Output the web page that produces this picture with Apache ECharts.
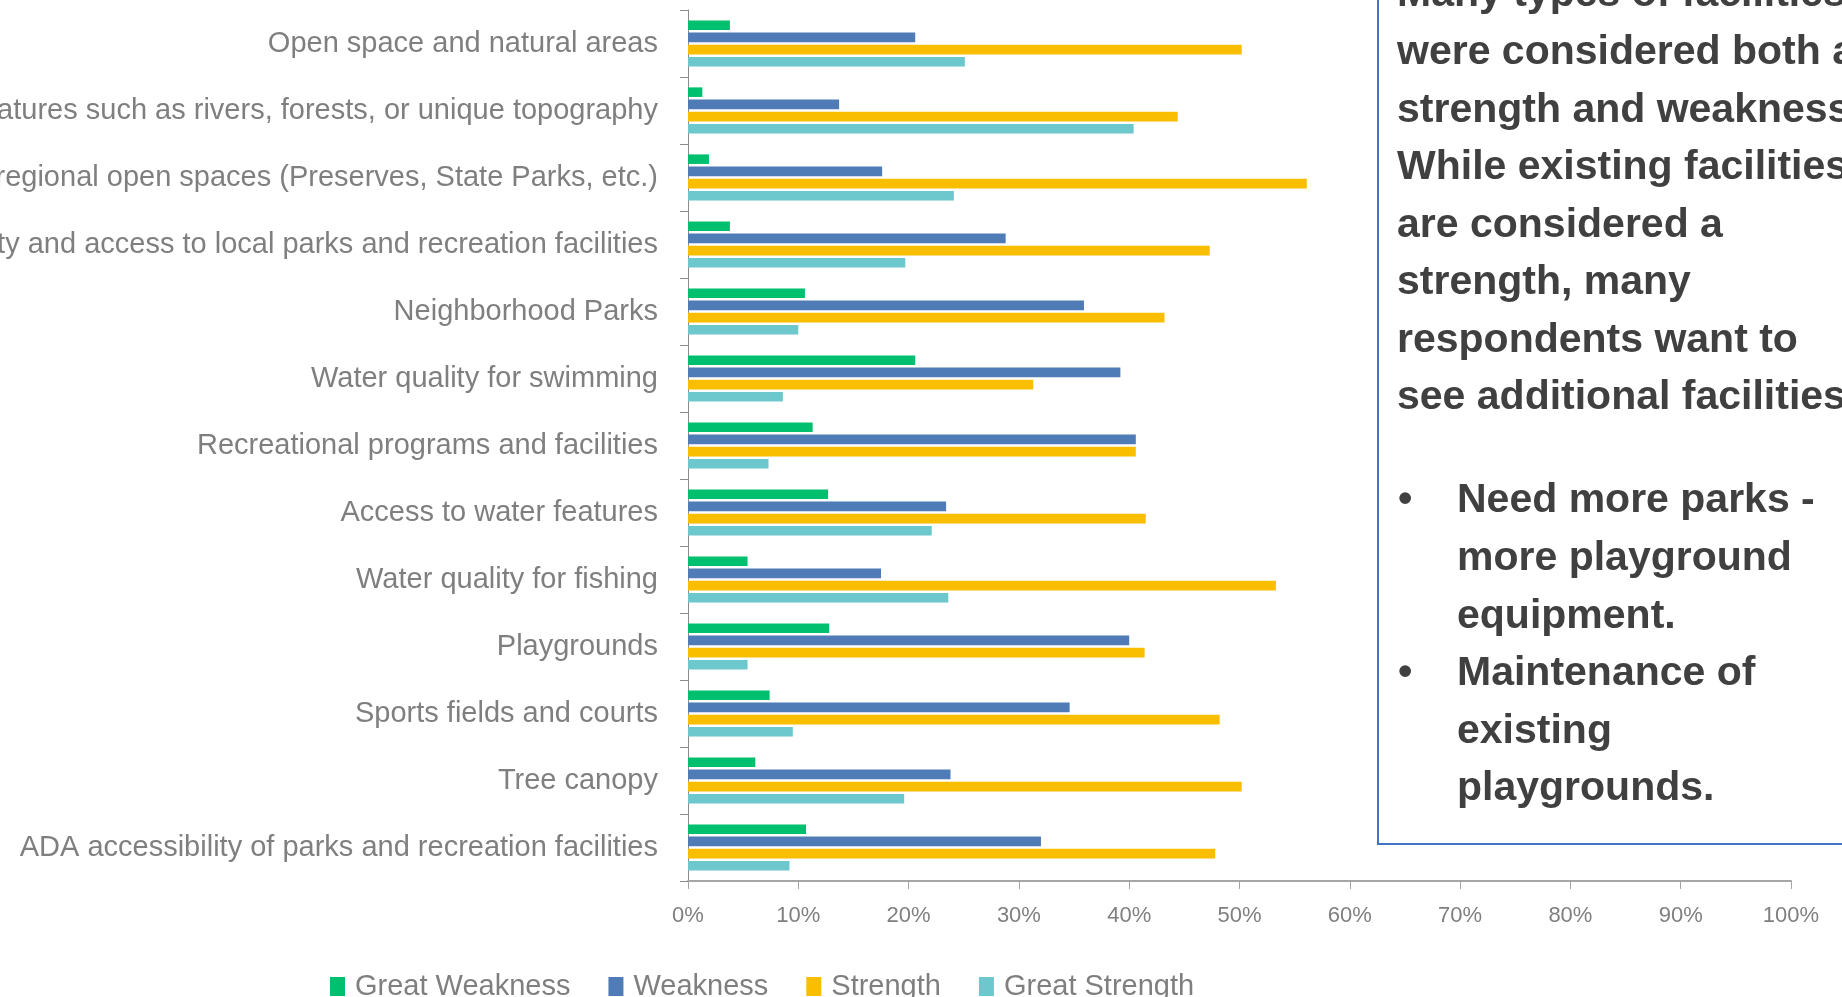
<!DOCTYPE html>
<html>
<head>
<meta charset="utf-8">
<script src="https://cdn.jsdelivr.net/npm/echarts@6/dist/echarts.min.js"></script>
<style>
html,body{margin:0;padding:0;background:#fff;}
#chart{width:1842px;height:997px;}
</style>
</head>
<body>
<div id="chart"></div>
<script>
const categories = [
  'Open space and natural areas',
  'Natural features such as rivers, forests, or unique topography',
  'Access to regional open spaces (Preserves, State Parks, etc.)',
  'Proximity and access to local parks and recreation facilities',
  'Neighborhood Parks',
  'Water quality for swimming',
  'Recreational programs and facilities',
  'Access to water features',
  'Water quality for fishing',
  'Playgrounds',
  'Sports fields and courts',
  'Tree canopy',
  'ADA accessibility of parks and recreation facilities'
];
const seriesNames = ['Great Weakness', 'Weakness', 'Strength', 'Great Strength'];
const greatWeakness = [3.8, 1.3, 1.9, 3.8, 10.6, 20.6, 11.3, 12.7, 5.4, 12.8, 7.4, 6.1, 10.7];
const weakness      = [20.6, 13.7, 17.6, 28.8, 35.9, 39.2, 40.6, 23.4, 17.5, 40.0, 34.6, 23.8, 32.0];
const strength      = [50.2, 44.4, 56.1, 47.3, 43.2, 31.3, 40.6, 41.5, 53.3, 41.4, 48.2, 50.2, 47.8];
const greatStrength = [25.1, 40.4, 24.1, 19.7, 10.0, 8.6, 7.3, 22.1, 23.6, 5.4, 9.5, 19.6, 9.2];
const xTicks = [0, 10, 20, 30, 40, 50, 60, 70, 80, 90, 100];
const boxLines = [
  'Many types of facilities',
  'were considered both a',
  'strength and weakness.',
  'While existing facilities',
  'are considered a',
  'strength, many',
  'respondents want to',
  'see additional facilities.'
];
const bulletLines = [
  ['\u2022', 'Need more parks -'],
  ['', 'more playground'],
  ['', 'equipment.'],
  ['\u2022', 'Maintenance of'],
  ['', 'existing'],
  ['', 'playgrounds.']
];

const colors = ['#00BF6F', '#4F7CB6', '#F9BE00', '#6CC8CC'];
const values = [greatWeakness, weakness, strength, greatStrength];

const chart = echarts.init(document.getElementById('chart'), null, {renderer: 'canvas'});

const graphics = [];
graphics.push({
  type: 'rect', left: 1377, top: -20, z: 10,
  shape: {x: 0, y: 0, width: 520, height: 863},
  style: {fill: '#fff', stroke: '#4472C4', lineWidth: 2}
});
const boxY = [-5, 53, 110.5, 168, 225.5, 283, 340.5, 398];
boxLines.forEach((t, i) => {
  graphics.push({type: 'text', z: 11, style: {text: t, x: 1397, y: boxY[i], font: 'bold 41px "Liberation Sans"', fill: '#404040', textAlign: 'left', textVerticalAlign: 'middle'}});
});
const bulletY = [501, 559, 616.5, 674, 731.5, 789];
bulletLines.forEach((b, i) => {
  if (b[0]) graphics.push({type: 'text', z: 11, style: {text: b[0], x: 1398, y: bulletY[i], font: 'bold 41px "Liberation Sans"', fill: '#404040', textAlign: 'left', textVerticalAlign: 'middle'}});
  graphics.push({type: 'text', z: 11, style: {text: b[1], x: 1457, y: bulletY[i], font: 'bold 41px "Liberation Sans"', fill: '#404040', textAlign: 'left', textVerticalAlign: 'middle'}});
});

chart.setOption({
  animation: false,
  backgroundColor: '#fff',
  textStyle: {fontFamily: '"Liberation Sans", Arial, sans-serif'},
  grid: {left: 688, right: 51, top: 10, bottom: 116, containLabel: false, outerBoundsMode: 'none'},
  legend: {
    data: seriesNames,
    left: 325, top: 967,
    icon: 'rect', itemWidth: 15, itemHeight: 19, itemGap: 38,
    textStyle: {fontSize: 29, color: '#7F7F7F', padding: [0, 0, 0, 5]}
  },
  xAxis: {
    type: 'value', min: 0, max: 100, interval: 10,
    axisLine: {show: true, lineStyle: {color: '#A6A6A6', width: 2}},
    axisTick: {show: true, length: 8, lineStyle: {color: '#A6A6A6', width: 1}},
    splitLine: {show: false},
    axisLabel: {formatter: v => xTicks.includes(v) ? v + '%' : '', fontSize: 22, color: '#7F7F7F', margin: 24}
  },
  yAxis: {
    type: 'category', data: categories, inverse: true,
    axisLine: {show: true, lineStyle: {color: '#8C8C8C', width: 1}},
    axisTick: {show: true, length: 8, lineStyle: {color: '#8C8C8C'}},
    axisLabel: {fontSize: 29, color: '#7F7F7F', margin: 30}
  },
  series: seriesNames.map((n, i) => ({
    name: n, type: 'bar', data: values[i],
    itemStyle: {color: colors[i]},
    barGap: '28%', barCategoryGap: '31%'
  })),
  graphic: graphics
});
</script>
</body>
</html>
